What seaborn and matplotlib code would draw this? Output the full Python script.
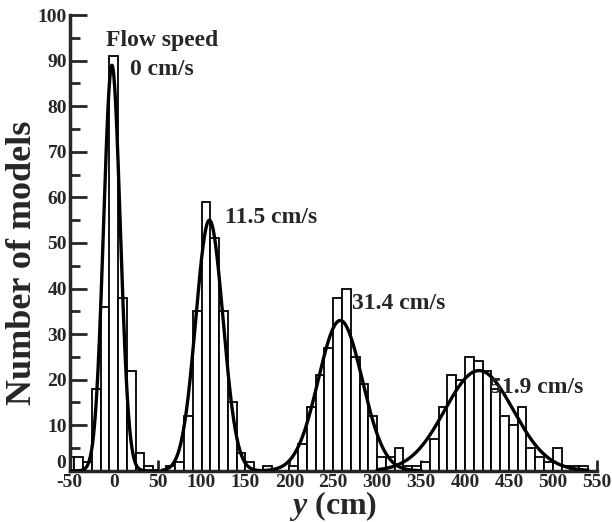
import numpy as np
import seaborn as sns
import matplotlib.pyplot as plt
from matplotlib.ticker import MultipleLocator, FuncFormatter

# histogram bins (bin centres, cm) and counts for each flow speed
centers_0 = [-50, -40, -30, -20, -10, 0, 10, 20, 30, 40]
counts_0 = [3, 3, 2, 18, 36, 91, 38, 22, 4, 1]

centers_115 = [65, 75, 85, 95, 105, 115, 125, 135, 145, 155, 175]
counts_115 = [1, 2, 12, 35, 59, 51, 35, 15, 4, 2, 1]

centers_314 = [205, 215, 225, 235, 245, 255, 265, 275, 285, 295, 305, 315]
counts_314 = [1, 6, 14, 21, 27, 38, 40, 25, 19, 12, 3, 3]

centers_519 = [325, 335, 345, 355, 365, 375, 385, 395, 405, 415, 425, 435,
               445, 455, 465, 475, 485, 495, 505, 515, 525, 535]
counts_519 = [5, 1, 1, 2, 7, 14, 21, 20, 25, 24, 22, 18,
              12, 10, 14, 5, 3, 2, 5, 1, 1, 1]

# gaussian fits (mean, sigma, peak) and the span each curve is drawn over
fit_mean = [-2, 109, 258, 416]
fit_sigma = [9.5, 15.5, 25, 39]
fit_peak = [89, 55, 33, 22]
fit_lo = [-48, 55, 170, 300]
fit_hi = [50, 175, 350, 540]

labels = ['0 cm/s', '11.5 cm/s', '31.4 cm/s', '51.9 cm/s']
label_x = [55, 179, 325, 482]
label_y = [88, 55.5, 36.8, 18.2]

sns.set_style('ticks')
plt.rcParams['font.family'] = ['Liberation Serif', 'DejaVu Serif']
plt.rcParams['font.weight'] = 'bold'
plt.rcParams['axes.unicode_minus'] = False
plt.rcParams['mathtext.fontset'] = 'custom'
plt.rcParams['mathtext.it'] = 'Liberation Serif:italic:bold'
plt.rcParams['mathtext.rm'] = 'Liberation Serif:bold'

fig = plt.figure(figsize=(6.12, 5.22), dpi=100)
ax = fig.add_axes([0.114, 0.098, 0.861, 0.873])

groups = [(centers_0, counts_0), (centers_115, counts_115),
          (centers_314, counts_314), (centers_519, counts_519)]
for c, n in groups:
    sns.histplot(x=c, weights=n, binwidth=10, binrange=(c[0] - 5, c[-1] + 5),
                 color='white', edgecolor='black', linewidth=1.3, alpha=1,
                 ax=ax, zorder=2)

for m, s, p, lo, hi in zip(fit_mean, fit_sigma, fit_peak, fit_lo, fit_hi):
    xx = np.linspace(lo, hi, 300)
    yy = p * np.exp(-(xx - m) ** 2 / (2 * s ** 2))
    sns.lineplot(x=xx, y=yy, color='black', linewidth=2.4, ax=ax, zorder=3)

ax.text(55, 94.5, 'Flow speed', ha='center', va='center', fontsize=17, fontweight='bold')
for t, x, y in zip(labels, label_x, label_y):
    ax.text(x, y, t, ha='center', va='center', fontsize=17, fontweight='bold', zorder=4)

ax.set_xlim(-50, 550)
ax.set_ylim(0, 100)
ax.xaxis.set_major_locator(MultipleLocator(50))
ax.yaxis.set_major_locator(MultipleLocator(10))
ax.yaxis.set_minor_locator(MultipleLocator(5))
# bottom "0" is drawn separately, a bit higher, so it clears "-50"
ax.yaxis.set_major_formatter(FuncFormatter(lambda v, p: '' if v == 0 else f'{v:g}'))
ax.tick_params(axis='both', which='major', direction='in', width=2, labelsize=14, pad=2)
ax.tick_params(axis='y', which='major', length=12)
ax.tick_params(axis='y', which='minor', direction='in', length=7, width=2)
ax.tick_params(axis='x', which='major', length=8)
ax.annotate('0', xy=(0, 0), xycoords='axes fraction', xytext=(-3, 5.5),
            textcoords='offset points', ha='right', va='center',
            fontsize=14, fontweight='bold')

sns.despine(ax=ax)
ax.spines['left'].set_linewidth(2.5)
ax.spines['bottom'].set_linewidth(2.5)

ax.set_ylabel('Number of models', fontsize=26, fontweight='bold')
ax.yaxis.set_label_coords(-0.058, 0.456)
ax.set_xlabel(r'$y$ (cm)', fontsize=23, fontweight='bold', labelpad=-1)

fig.savefig('out.png', dpi=100)
